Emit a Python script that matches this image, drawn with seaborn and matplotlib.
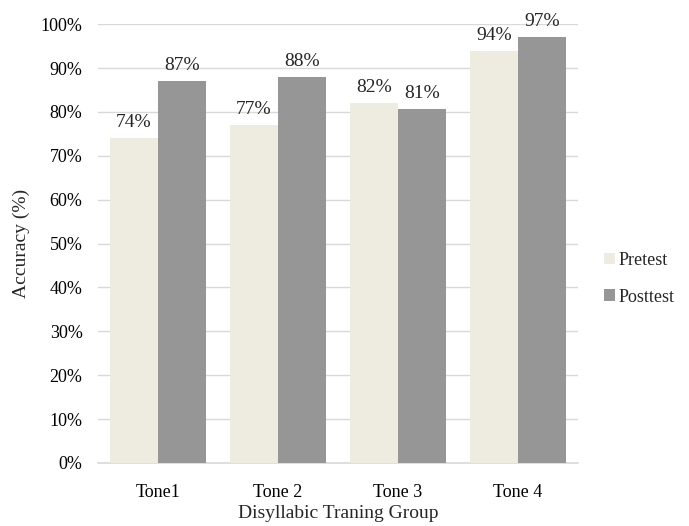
import matplotlib
matplotlib.use("Agg")
import matplotlib.pyplot as plt
import seaborn as sns
import pandas as pd
from matplotlib.ticker import FuncFormatter, MultipleLocator

groups = ["Tone1", "Tone 2", "Tone 3", "Tone 4"]
pretest = [74, 77, 82, 94]
posttest = [87, 88, 80.6, 97]
series = ["Pretest", "Posttest"]
colors = ["#EEECE1", "#969696"]

df = pd.DataFrame({
    "group": groups * 2,
    "test": [series[0]] * len(groups) + [series[1]] * len(groups),
    "acc": pretest + posttest,
})

sns.set_theme(style="white")
plt.rcParams["font.family"] = ["Liberation Serif", "DejaVu Serif"]

fig = plt.figure(figsize=(6.89, 5.26), dpi=100)
ax = fig.add_axes([0.142, 0.12, 0.697, 0.834])

sns.barplot(data=df, x="group", y="acc", hue="test", palette=colors,
            width=0.8, ax=ax, saturation=1, legend=True, zorder=3,
            linewidth=0, edgecolor="none")

ax.set_ylim(0, 100)
ax.yaxis.set_major_locator(MultipleLocator(10))
ax.yaxis.set_major_formatter(FuncFormatter(lambda v, p: f"{v:.0f}%"))
ax.grid(axis="y", color="#D9D9D9", linewidth=1, zorder=0)
ax.set_axisbelow(True)
for s in ["left", "right", "top"]:
    ax.spines[s].set_visible(False)
ax.spines["bottom"].set_color("#D9D9D9")
ax.spines["bottom"].set_linewidth(1.2)
ax.tick_params(axis="both", length=0, labelsize=13, colors="#000000")
ax.tick_params(axis="x", pad=15)
ax.tick_params(axis="y", pad=11)
ax.set_xlabel("Disyllabic Traning Group", fontsize=14, labelpad=3)
ax.set_ylabel("Accuracy (%)", fontsize=14, labelpad=8)

for cont in ax.containers:
    for bar in cont:
        h = bar.get_height()
        ax.annotate(f"{h:.0f}%", (bar.get_x() + bar.get_width() / 2, h),
                    xytext=(0, 5), textcoords="offset points",
                    ha="center", va="bottom", fontsize=14, clip_on=False)

leg = ax.legend(title=None, loc="center left", bbox_to_anchor=(1.02, 0.42),
                frameon=False, fontsize=13, handlelength=0.6, handleheight=0.6,
                handletextpad=0.2, labelspacing=1.1)

fig.savefig("out.png", dpi=100)
